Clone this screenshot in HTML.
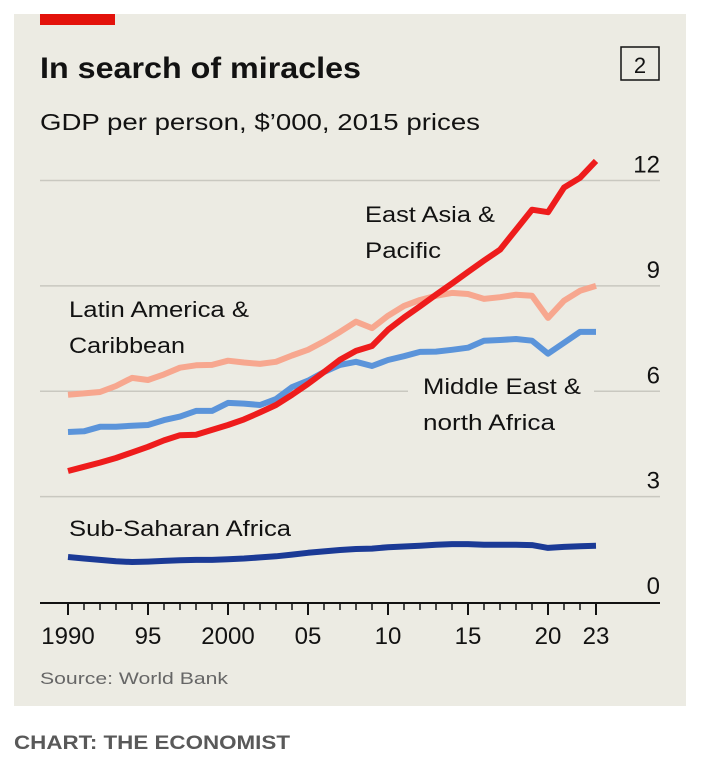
<!DOCTYPE html>
<html><head><meta charset="utf-8"><style>
html,body{margin:0;padding:0;background:#fff;}
svg{display:block;font-family:"Liberation Sans",sans-serif;}
</style></head><body>
<svg width="704" height="766" viewBox="0 0 704 766">
<rect x="14" y="14" width="672" height="692" fill="#ecebe3"/>
<rect x="40" y="14" width="75" height="11" fill="#e3120b"/>
<text x="40" y="78" font-size="30" font-weight="bold" fill="#121212" textLength="321" lengthAdjust="spacingAndGlyphs">In search of miracles</text>
<rect x="621" y="47" width="38" height="33" fill="none" stroke="#121212" stroke-width="1.5"/>
<text x="640" y="73" font-size="22" text-anchor="middle" fill="#121212">2</text>
<text x="40" y="130" font-size="23" fill="#121212" textLength="440" lengthAdjust="spacingAndGlyphs">GDP per person, $’000, 2015 prices</text>
<g id="grid"></g>
<g id="lines"></g>
<g id="axis"></g>
<text x="365" y="222" font-size="22" fill="#121212" textLength="130" lengthAdjust="spacingAndGlyphs">East Asia &amp;</text>
<text x="365" y="258" font-size="22" fill="#121212" textLength="76" lengthAdjust="spacingAndGlyphs">Pacific</text>
<text x="69" y="317" font-size="22" fill="#121212" textLength="180" lengthAdjust="spacingAndGlyphs">Latin America &amp;</text>
<text x="69" y="353" font-size="22" fill="#121212" textLength="116" lengthAdjust="spacingAndGlyphs">Caribbean</text>
<text x="423" y="394" font-size="22" fill="#121212" textLength="158" lengthAdjust="spacingAndGlyphs">Middle East &amp;</text>
<text x="423" y="430" font-size="22" fill="#121212" textLength="132" lengthAdjust="spacingAndGlyphs">north Africa</text>
<text x="69" y="536" font-size="22" fill="#121212" textLength="222" lengthAdjust="spacingAndGlyphs">Sub-Saharan Africa</text>
<text x="40" y="684" font-size="17" fill="#666" textLength="188" lengthAdjust="spacingAndGlyphs">Source: World Bank</text>
<text x="14" y="749" font-size="19" font-weight="bold" fill="#595959" textLength="276" lengthAdjust="spacingAndGlyphs">CHART: THE ECONOMIST</text>
</svg>
<script>
const years=[1990,1991,1992,1993,1994,1995,1996,1997,1998,1999,2000,2001,2002,2003,2004,2005,2006,2007,2008,2009,2010,2011,2012,2013,2014,2015,2016,2017,2018,2019,2020,2021,2022,2023];
const eastAsia=[3.73,3.85,3.97,4.1,4.26,4.42,4.6,4.75,4.76,4.9,5.04,5.2,5.4,5.61,5.9,6.21,6.55,6.9,7.15,7.29,7.75,8.1,8.42,8.75,9.07,9.4,9.72,10.03,10.6,11.17,11.1,11.8,12.08,12.56];
const latinAmerica=[5.9,5.94,5.98,6.15,6.38,6.32,6.48,6.67,6.74,6.75,6.87,6.82,6.78,6.84,7.02,7.18,7.42,7.69,7.98,7.8,8.15,8.43,8.6,8.72,8.8,8.77,8.63,8.68,8.75,8.72,8.09,8.58,8.86,9.0];
const mena=[4.84,4.86,4.99,4.99,5.02,5.04,5.18,5.28,5.44,5.44,5.67,5.65,5.61,5.78,6.12,6.3,6.55,6.75,6.84,6.72,6.89,7.0,7.12,7.13,7.18,7.24,7.44,7.46,7.49,7.44,7.07,7.38,7.69,7.69];
const subSaharan=[1.28,1.24,1.2,1.16,1.14,1.15,1.17,1.19,1.2,1.2,1.22,1.24,1.27,1.3,1.35,1.4,1.44,1.48,1.51,1.52,1.56,1.58,1.6,1.63,1.65,1.65,1.63,1.63,1.63,1.62,1.54,1.57,1.59,1.6];
const yTicks=[0,3,6,9,12];
const xLabelYears=[1990,1995,2000,2005,2010,2015,2020,2023];
const xLabels=["1990","95","2000","05","10","15","20","23"];
const NS="http://www.w3.org/2000/svg";
const xS=y=>68+(y-1990)*(528/33);
const yS=v=>602-v*35.12;
function mk(tag,attrs,parent){const e=document.createElementNS(NS,tag);for(const k in attrs)e.setAttribute(k,attrs[k]);parent.appendChild(e);return e;}
const grid=document.getElementById('grid'),lines=document.getElementById('lines'),axis=document.getElementById('axis');
yTicks.forEach(v=>{
  if(v>0){
    if(v===6){
      const a=mk('line',{x1:40,x2:408,y1:yS(v),y2:yS(v),stroke:'#c9c8c0','stroke-width':1.5},grid);
      
      
      const b=mk('line',{x1:594,x2:660,y1:yS(v),y2:yS(v),stroke:'#c9c8c0','stroke-width':1.5},grid);
      
      
    } else {
      const g=mk('line',{x1:40,x2:660,y1:yS(v),y2:yS(v),stroke:'#c9c8c0','stroke-width':1.5},grid);
      
      
    }
  }
  const t=mk('text',{x:660,y:yS(v)-8,'font-size':24,'text-anchor':'end',fill:'#121212'},grid);
  t.textContent=v;
  
  
});
function series(data,color,name,w){
  const d=data.map((v,i)=>(i?'L':'M')+xS(years[i]).toFixed(1)+','+yS(v).toFixed(1)).join('');
  const p=mk('path',{d:d,fill:'none',stroke:color,'stroke-width':w,'stroke-linejoin':'round'},lines);
  
  
}
series(latinAmerica,'#f7a78f','line-latin-america',6);
series(mena,'#5b94da','line-middle-east-north-africa',6);
series(subSaharan,'#1b3a96','line-sub-saharan-africa',6);
series(eastAsia,'#ee1c1c','line-east-asia-pacific',6);
const ax=mk('line',{x1:40,x2:660,y1:603,y2:603,stroke:'#121212','stroke-width':2},axis);


years.forEach(y=>{
  const major=xLabelYears.includes(y);
  const t=mk('line',{x1:xS(y),x2:xS(y),y1:603,y2:major?615:610,stroke:'#121212','stroke-width':major?2:1.5},axis);
  
  
});
xLabelYears.forEach((y,i)=>{
  const t=mk('text',{x:xS(y),y:644,'font-size':24,'text-anchor':'middle',fill:'#121212'},axis);
  t.textContent=xLabels[i];
  
  
});
</script>
</body></html>
